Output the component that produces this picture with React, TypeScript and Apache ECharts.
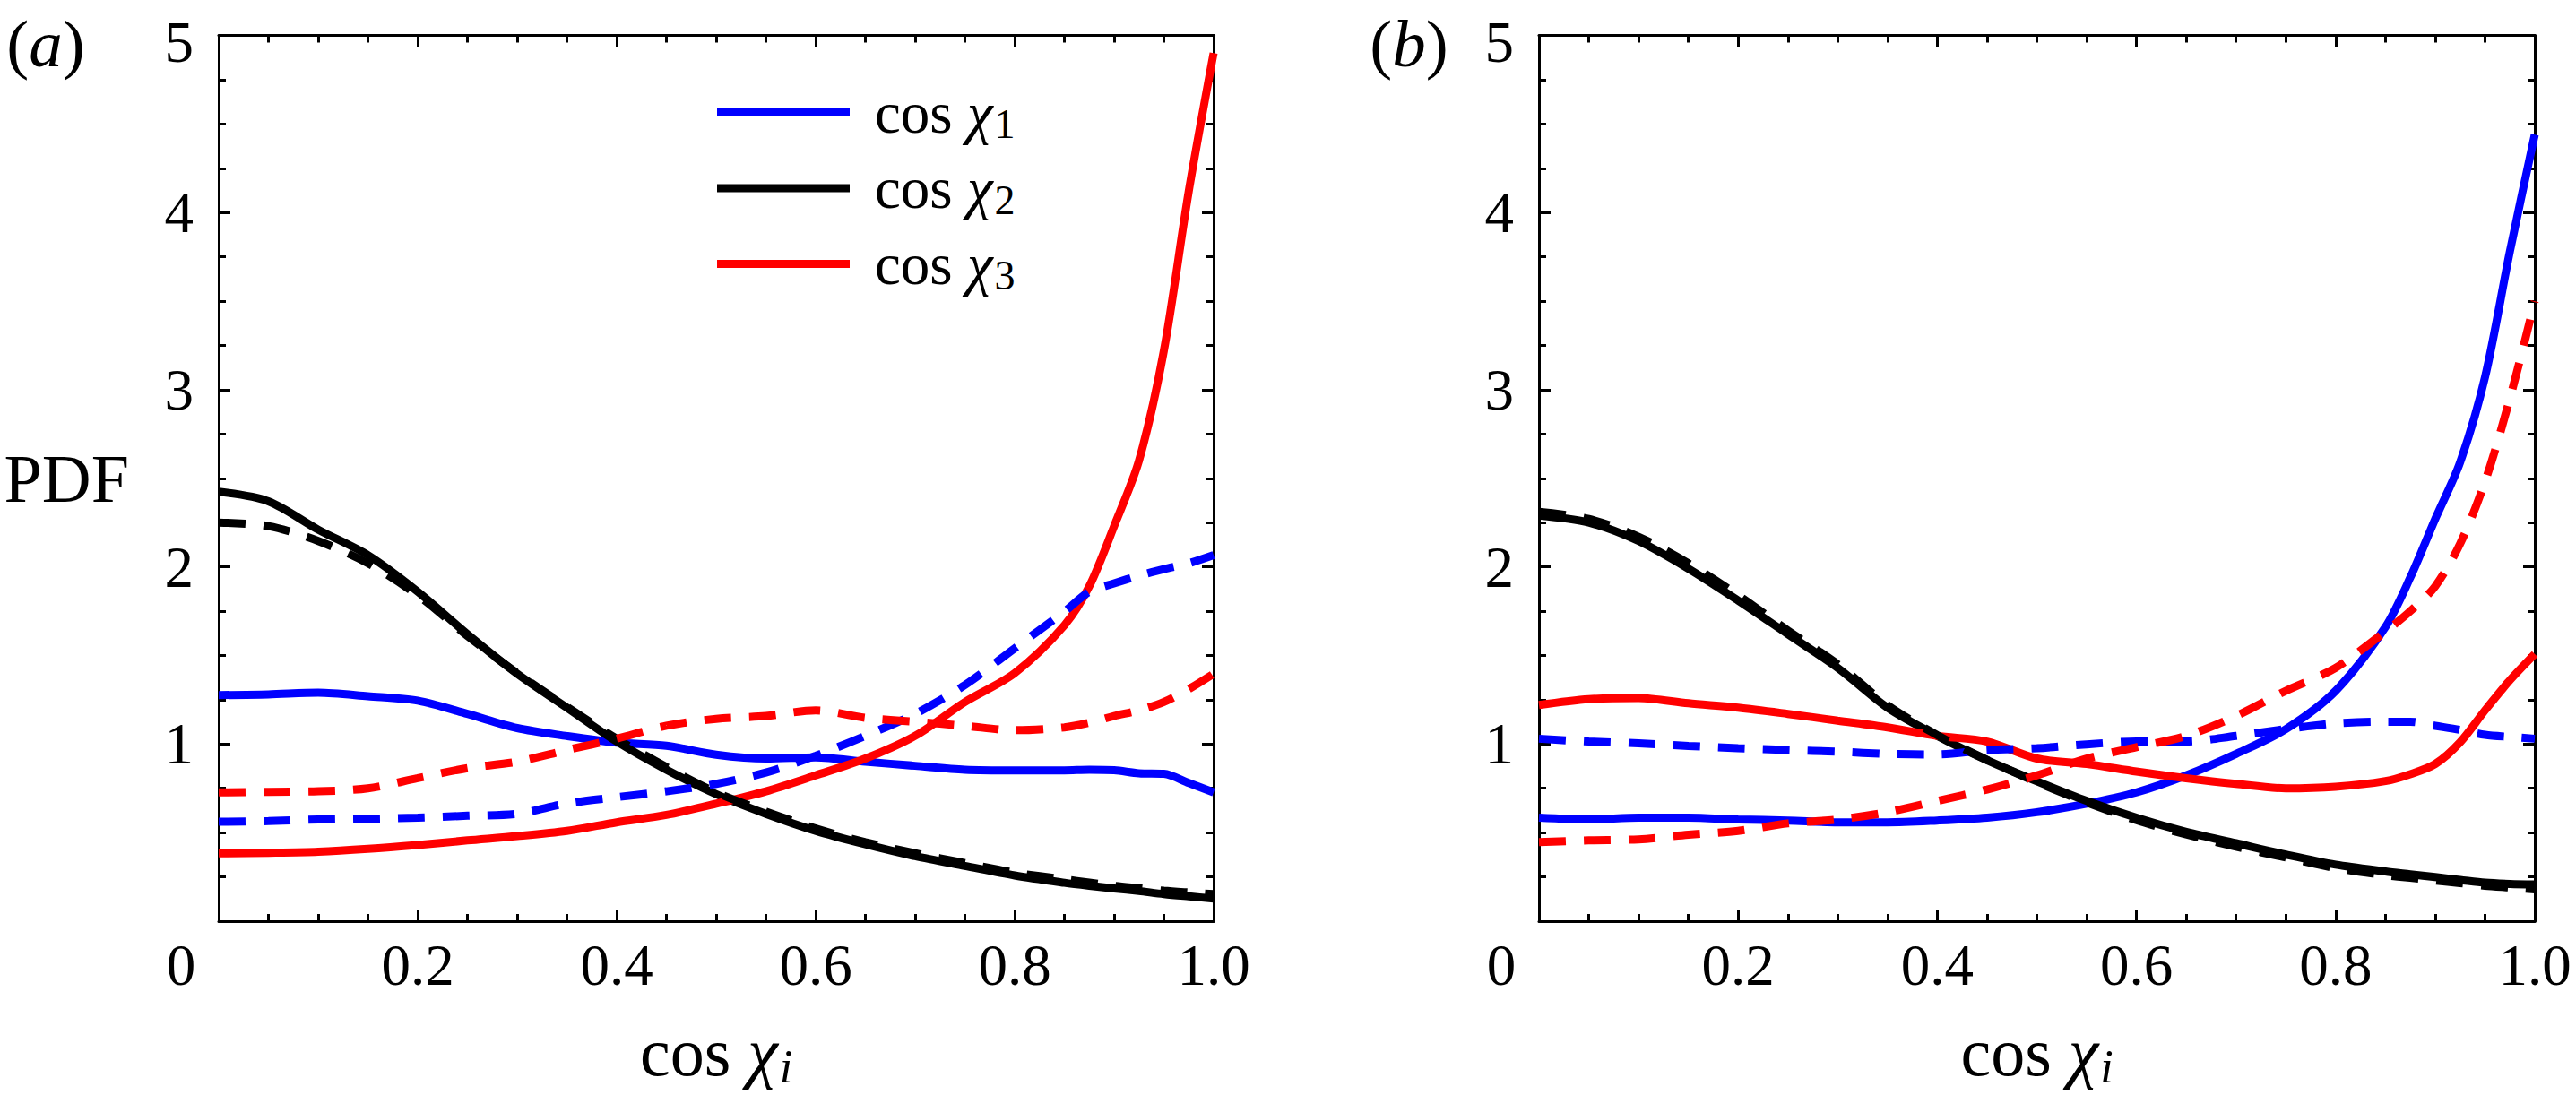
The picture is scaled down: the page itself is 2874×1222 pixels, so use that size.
import React, { useEffect, useRef } from 'react';
import * as echarts from 'echarts';

// shared abscissa (cos chi_i)
const X = [0, 0.05, 0.1, 0.15, 0.2, 0.25, 0.3, 0.35, 0.4, 0.45, 0.5, 0.55, 0.6, 0.65, 0.7, 0.75, 0.8, 0.85, 0.875, 0.9, 0.925, 0.95, 0.975, 1.0];

// panel (a)
const blueSolidA = [1.276, 1.28, 1.29, 1.27, 1.245, 1.17, 1.09, 1.045, 1.008, 0.99, 0.94, 0.918, 0.925, 0.9, 0.877, 0.855, 0.851, 0.851, 0.855, 0.852, 0.835, 0.832, 0.78, 0.727];
const blueDashA = [0.561, 0.565, 0.574, 0.578, 0.584, 0.595, 0.606, 0.665, 0.7, 0.733, 0.775, 0.839, 0.934, 1.046, 1.17, 1.333, 1.54, 1.747, 1.86, 1.907, 1.95, 1.987, 2.02, 2.066];
const blackSolidA = [2.424, 2.37, 2.21, 2.066, 1.86, 1.62, 1.397, 1.205, 1.014, 0.855, 0.717, 0.606, 0.51, 0.434, 0.367, 0.312, 0.258, 0.217, 0.2, 0.185, 0.17, 0.153, 0.14, 0.128];
const blackDashA = [2.25, 2.23, 2.146, 2.02, 1.84, 1.61, 1.4, 1.21, 1.03, 0.87, 0.727, 0.619, 0.523, 0.446, 0.383, 0.328, 0.274, 0.236, 0.218, 0.2, 0.186, 0.172, 0.162, 0.153];
const redSolidA = [0.383, 0.386, 0.392, 0.408, 0.43, 0.456, 0.48, 0.51, 0.558, 0.6, 0.663, 0.733, 0.823, 0.918, 1.046, 1.237, 1.4, 1.67, 1.89, 2.23, 2.6, 3.22, 4.12, 4.9];
const redDashA = [0.727, 0.73, 0.733, 0.75, 0.807, 0.864, 0.9, 0.966, 1.03, 1.103, 1.142, 1.158, 1.19, 1.148, 1.126, 1.103, 1.078, 1.094, 1.12, 1.158, 1.19, 1.237, 1.31, 1.397];

// panel (b)
const blueSolidB = [0.584, 0.574, 0.584, 0.584, 0.574, 0.568, 0.558, 0.558, 0.568, 0.584, 0.615, 0.663, 0.727, 0.823, 0.944, 1.084, 1.3, 1.66, 1.94, 2.27, 2.59, 3.07, 3.78, 4.44];
const blueDashB = [1.03, 1.014, 1.004, 0.989, 0.976, 0.966, 0.957, 0.944, 0.941, 0.966, 0.976, 0.998, 1.014, 1.014, 1.046, 1.084, 1.116, 1.126, 1.126, 1.103, 1.08, 1.052, 1.04, 1.03];
const blackSolidB = [2.29, 2.25, 2.146, 1.99, 1.81, 1.62, 1.43, 1.205, 1.046, 0.909, 0.79, 0.679, 0.584, 0.504, 0.44, 0.376, 0.319, 0.281, 0.265, 0.249, 0.233, 0.217, 0.21, 0.207];
const blackDashB = [2.31, 2.27, 2.17, 2.02, 1.84, 1.64, 1.45, 1.22, 1.05, 0.91, 0.785, 0.67, 0.57, 0.49, 0.42, 0.36, 0.3, 0.26, 0.245, 0.23, 0.215, 0.2, 0.19, 0.18];
const redSolidB = [1.22, 1.253, 1.26, 1.23, 1.205, 1.17, 1.132, 1.094, 1.046, 1.014, 0.918, 0.887, 0.845, 0.807, 0.775, 0.75, 0.759, 0.791, 0.83, 0.887, 1.01, 1.19, 1.36, 1.508];
const redDashB = [0.446, 0.456, 0.462, 0.488, 0.51, 0.552, 0.574, 0.615, 0.679, 0.743, 0.823, 0.918, 0.982, 1.046, 1.158, 1.3, 1.43, 1.635, 1.75, 1.89, 2.13, 2.48, 2.95, 3.5];

const X_TICK_LABELS = ['0', '0.2', '0.4', '0.6', '0.8', '1.0'];
const Y_TICK_LABELS = ['', '1', '2', '3', '4', '5'];
const LEGEND_NAMES = ['cos χ1', 'cos χ2', 'cos χ3'];
const PANEL_TAGS = ['a', 'b'];

const FONT = '"Liberation Serif", "DejaVu Serif", serif';
const BLUE = '#0000ff';
const RED = '#ff0000';
const BLACK = '#000000';

const App: React.FC = () => {
  const chartRef = useRef<HTMLDivElement>(null);

  useEffect(() => {
    if (!chartRef.current) return;
    const chart = echarts.init(chartRef.current, undefined, { renderer: 'svg' });

    const grids = [
      { left: 244, top: 34, width: 1110, height: 994 },
      { left: 1717, top: 34, width: 1111, height: 994 },
    ];

    const axisLine = { show: true, onZero: false, lineStyle: { color: BLACK, width: 3 } };
    const axisTick = { show: true, inside: true, length: 13, lineStyle: { color: BLACK, width: 3 } };
    const minorTick = { show: true, splitNumber: 4, length: 8, lineStyle: { color: BLACK, width: 3 } };

    const xAxes: any[] = [];
    const yAxes: any[] = [];
    grids.forEach((_, g) => {
      xAxes.push({
        type: 'value', gridIndex: g, position: 'bottom', min: 0, max: 1, interval: 0.2,
        axisLine, axisTick, minorTick, splitLine: { show: false },
        axisLabel: {
          fontSize: 65, fontFamily: FONT, color: BLACK, margin: 16,
          formatter: (v: number) => {
            const s = X_TICK_LABELS[Math.round(v / 0.2)] ?? '';
            return v === 0 ? '{o|' + s + '}' : s;
          },
          rich: { o: { fontSize: 65, fontFamily: FONT, color: BLACK, padding: [0, 84, 0, 0] } },
        },
        name: 'cos {c|χ}{s|i}', nameLocation: 'middle', nameGap: 104,
        nameTextStyle: {
          fontSize: 76, fontFamily: FONT, color: BLACK,
          rich: {
            c: { fontSize: 76, fontFamily: FONT, fontStyle: 'italic', color: BLACK },
            s: { fontSize: 52, fontFamily: FONT, fontStyle: 'italic', color: BLACK, padding: [32, 0, 0, 2] },
          },
        },
      });
      xAxes.push({
        type: 'value', gridIndex: g, position: 'top', min: 0, max: 1, interval: 0.2,
        axisLine, axisTick, minorTick, splitLine: { show: false }, axisLabel: { show: false },
      });
      yAxes.push({
        type: 'value', gridIndex: g, position: 'left', min: 0, max: 5, interval: 1,
        axisLine, axisTick, minorTick, splitLine: { show: false },
        axisLabel: {
          fontSize: 65, lineHeight: 54, fontFamily: FONT, color: BLACK, margin: 28,
          formatter: (v: number) => {
            const s = Y_TICK_LABELS[Math.round(v)] ?? '';
            // top label sits at the frame edge: nudge it down a little so it is not clipped
            return v === 5 ? '{t|' + s + '}' : s;
          },
          rich: { t: { fontSize: 65, lineHeight: 54, fontFamily: FONT, color: BLACK, padding: [14, 0, 0, 0] } },
        },
        name: g === 0 ? 'PDF' : '', nameLocation: 'middle', nameRotate: 0, nameGap: 100,
        nameTextStyle: { fontSize: 76, fontFamily: FONT, color: BLACK },
      });
      yAxes.push({
        type: 'value', gridIndex: g, position: 'right', min: 0, max: 5, interval: 1,
        axisLine, axisTick, minorTick, splitLine: { show: false }, axisLabel: { show: false },
      });
    });

    const line = (name: string, ys: number[], color: string, dashed: boolean, panel: number) => ({
      type: 'line',
      name,
      data: X.map((x, i) => [x, ys[i]]),
      xAxisIndex: panel * 2,
      yAxisIndex: panel * 2,
      symbol: 'none',
      smooth: 0.3,
      silent: true,
      z: dashed ? 3 : 2,
      itemStyle: { color },
      lineStyle: { color, width: 9, type: dashed ? [30, 20] : 'solid' },
    });

    const series = [
      line(LEGEND_NAMES[0], blueSolidA, BLUE, false, 0),
      line(LEGEND_NAMES[1], blackSolidA, BLACK, false, 0),
      line(LEGEND_NAMES[2], redSolidA, RED, false, 0),
      line('model χ1 (a)', blueDashA, BLUE, true, 0),
      line('model χ2 (a)', blackDashA, BLACK, true, 0),
      line('model χ3 (a)', redDashA, RED, true, 0),
      line(LEGEND_NAMES[0], blueSolidB, BLUE, false, 1),
      line(LEGEND_NAMES[1], blackSolidB, BLACK, false, 1),
      line(LEGEND_NAMES[2], redSolidB, RED, false, 1),
      line('model χ1 (b)', blueDashB, BLUE, true, 1),
      line('model χ2 (b)', blackDashB, BLACK, true, 1),
      line('model χ3 (b)', redDashB, RED, true, 1),
    ];

    chart.setOption({
      animation: false,
      backgroundColor: '#ffffff',
      grid: grids,
      xAxis: xAxes,
      yAxis: yAxes,
      legend: {
        data: LEGEND_NAMES,
        orient: 'vertical',
        left: 800,
        top: 93,
        padding: 0,
        icon: 'rect',
        itemWidth: 148,
        itemHeight: 9,
        itemGap: 16,
        selectedMode: false,
        formatter: (name: string) => 'cos {c|χ}{s|' + name.slice(-1) + '}',
        textStyle: {
          fontSize: 65, fontFamily: FONT, color: BLACK, padding: [0, 0, 0, 23],
          rich: {
            c: { fontSize: 65, fontFamily: FONT, fontStyle: 'italic', color: BLACK },
            s: { fontSize: 46, fontFamily: FONT, color: BLACK, padding: [26, 0, 0, 2] },
          },
        },
      },
      graphic: PANEL_TAGS.map((t, i) => ({
        type: 'text',
        x: i === 0 ? 51 : 1572,
        y: 48,
        style: {
          text: '({i|' + t + '})',
          fontSize: 75, fontFamily: FONT, fill: BLACK,
          align: 'center', verticalAlign: 'middle',
          rich: { i: { fontSize: 75, fontFamily: FONT, fontStyle: 'italic', fill: BLACK } },
        },
      })),
      series,
    });

    return () => {
      chart.dispose();
    };
  }, []);

  return (
    <div
      ref={chartRef}
      style={{ position: 'fixed', left: 0, top: 0, width: '2874px', height: '1222px', background: '#fff' }}
    />
  );
};

export default App;
